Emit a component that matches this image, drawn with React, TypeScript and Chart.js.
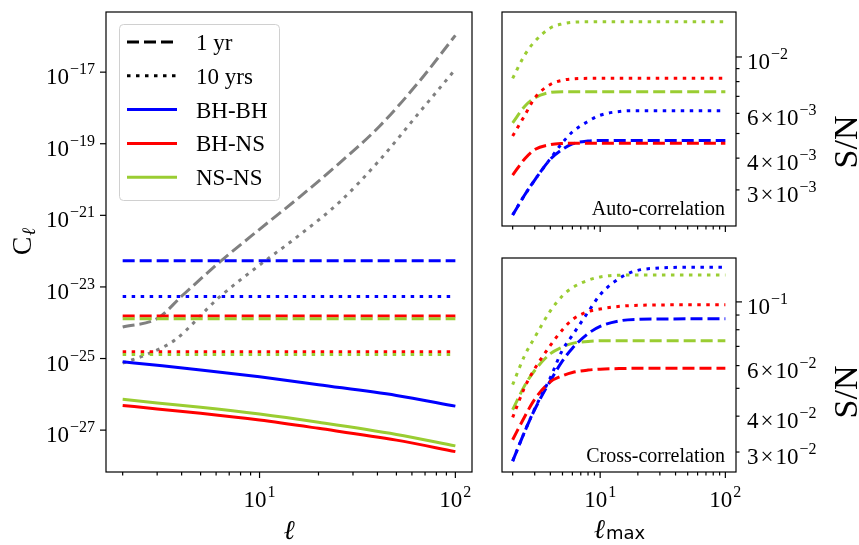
import React, { useEffect, useRef } from "react";
import { Chart, registerables } from "chart.js";
Chart.register(...registerables);

const W = 859;
const H = 545;
const SERIF = '"Liberation Serif", "Times New Roman", serif';
const SANS = '"DejaVu Sans", sans-serif';

const BLUE = "#0000ff";
const RED = "#ff0000";
const GREEN = "#9acd32";
const GREY = "#808080";
const DASH = [12, 5];
const DOT = [3.5, 5.5];

// ---------- left panel: C_ell ----------
const ELL_SIGNAL = [2, 3, 5, 10, 20, 50, 100];
const CL_BHBH = [8.13e-26, 6.46e-26, 4.79e-26, 3.09e-26, 1.86e-26, 9.33e-27, 4.68e-27];
const CL_BHNS = [4.9e-27, 3.89e-27, 2.95e-27, 1.91e-27, 1.12e-27, 5.25e-28, 2.51e-28];
const CL_NSNS = [7.24e-27, 5.75e-27, 4.37e-27, 2.82e-27, 1.66e-27, 7.59e-28, 3.63e-28];

const ELL_NOISE_1YR = [2, 3.03, 4, 6.25, 10, 16, 25.6, 41, 65.6, 100];
const NOISE_1YR = [7.59e-25, 1.35e-24, 5.5e-24, 4.9e-23, 4.07e-22, 3.24e-21, 2.88e-20, 3.09e-19, 5.62e-18, 1.07e-16];
const ELL_NOISE_10YR = [2, 2.75, 3.68, 6.25, 10, 16, 25.6, 41, 65.6, 100];
const NOISE_10YR = [7.41e-26, 1.41e-25, 3.24e-25, 5.25e-24, 4.07e-23, 2.82e-22, 2.34e-21, 3.47e-20, 7.59e-19, 1.2e-17];

const ELL_FLAT = [2, 100];
const SHOT_BHBH_1YR = [5.37e-23, 5.37e-23];
const SHOT_BHBH_10YR = [5.37e-24, 5.37e-24];
const SHOT_BHNS_1YR = [1.55e-24, 1.55e-24];
const SHOT_NSNS_1YR = [1.29e-24, 1.29e-24];
const SHOT_BHNS_10YR = [1.55e-25, 1.55e-25];
const SHOT_NSNS_10YR = [1.29e-25, 1.29e-25];

// ---------- right panels: S/N vs ell_max ----------
const ELL_MAX = [2, 2.5, 3, 4, 5, 6, 8, 10, 15, 20, 30, 50, 100];
const AUTO_BHBH_1YR = [0.00239, 0.00287, 0.00328, 0.00396, 0.00433, 0.00455, 0.00467, 0.00469, 0.00469, 0.00469, 0.00469, 0.00469, 0.00469];
const AUTO_BHBH_10YR = [0.00239, 0.00287, 0.00328, 0.00398, 0.0046, 0.00507, 0.00558, 0.0059, 0.00612, 0.00615, 0.00615, 0.00615, 0.00615];
const AUTO_BHNS_1YR = [0.00343, 0.00398, 0.00432, 0.00452, 0.00457, 0.00458, 0.00458, 0.00458, 0.00458, 0.00458, 0.00458, 0.00458, 0.00458];
const AUTO_BHNS_10YR = [0.00489, 0.0059, 0.0069, 0.0078, 0.0081, 0.0082, 0.00824, 0.00824, 0.00824, 0.00824, 0.00824, 0.00824, 0.00824];
const AUTO_NSNS_1YR = [0.00551, 0.0064, 0.0069, 0.00725, 0.0073, 0.0073, 0.0073, 0.0073, 0.0073, 0.0073, 0.0073, 0.0073, 0.0073];
const AUTO_NSNS_10YR = [0.00824, 0.0102, 0.0115, 0.013, 0.0135, 0.0137, 0.01375, 0.01377, 0.01377, 0.01377, 0.01377, 0.01377, 0.01377];

const CROSS_BHBH_1YR = [0.0279, 0.0354, 0.0422, 0.0531, 0.0623, 0.069, 0.0775, 0.0822, 0.0862, 0.087, 0.0872, 0.0873, 0.0873];
const CROSS_BHBH_10YR = [0.0279, 0.0354, 0.0424, 0.0545, 0.068, 0.0765, 0.0921, 0.106, 0.1225, 0.1288, 0.1312, 0.132, 0.132];
const CROSS_BHNS_1YR = [0.0331, 0.0399, 0.0458, 0.0527, 0.0553, 0.0568, 0.0579, 0.0583, 0.0586, 0.0587, 0.0587, 0.0587, 0.0587];
const CROSS_BHNS_10YR = [0.0396, 0.0505, 0.0585, 0.0705, 0.08, 0.0868, 0.0925, 0.0945, 0.0967, 0.0973, 0.0976, 0.0977, 0.0977];
const CROSS_NSNS_1YR = [0.0421, 0.0512, 0.0577, 0.066, 0.0697, 0.0717, 0.0728, 0.0732, 0.0733, 0.0733, 0.0733, 0.0733, 0.0733];
const CROSS_NSNS_10YR = [0.0515, 0.0652, 0.0752, 0.093, 0.105, 0.112, 0.119, 0.1222, 0.124, 0.1242, 0.1242, 0.1242, 0.1242];

// ---------- ticks & labels ----------
const X_MAJOR = [10, 100];
const X_MINOR = [2, 3, 4, 5, 6, 7, 8, 9, 20, 30, 40, 50, 60, 70, 80, 90];
const X_LABEL_EXP = ["1", "2"];

const LEFT_Y_MAJOR = [1e-27, 1e-25, 1e-23, 1e-21, 1e-19, 1e-17];
const LEFT_Y_EXP = ["\u221227", "\u221225", "\u221223", "\u221221", "\u221219", "\u221217"];

const AUTO_Y_MAJOR = [1e-2];
const AUTO_Y_MINOR = [3e-3, 4e-3, 5e-3, 6e-3, 7e-3, 8e-3, 9e-3];
const AUTO_Y_LABEL_VALUES = [1e-2, 6e-3, 4e-3, 3e-3];
const AUTO_Y_LABEL_MANT = ["", "6", "4", "3"];
const AUTO_Y_LABEL_EXP = ["\u22122", "\u22123", "\u22123", "\u22123"];

const CROSS_Y_MAJOR = [1e-1];
const CROSS_Y_MINOR = [3e-2, 4e-2, 5e-2, 6e-2, 7e-2, 8e-2, 9e-2];
const CROSS_Y_LABEL_VALUES = [1e-1, 6e-2, 4e-2, 3e-2];
const CROSS_Y_LABEL_MANT = ["", "6", "4", "3"];
const CROSS_Y_LABEL_EXP = ["\u22121", "\u22122", "\u22122", "\u22122"];

const LEGEND_LABELS = ["1 yr", "10 yrs", "BH-BH", "BH-NS", "NS-NS"];
const LEGEND_COLORS = ["#000000", "#000000", BLUE, RED, GREEN];
const LEGEND_DASHES = [DASH, DOT, [], [], []];

const TICK_FONT = 23;
const EXP_FONT = 16;

function lineDs(xs: number[], ys: number[], color: string, dash: number[]) {
  return {
    data: xs.map((x, i) => ({ x, y: ys[i] })),
    borderColor: color,
    borderWidth: 3,
    borderDash: dash,
    borderCapStyle: "butt",
    pointRadius: 0,
    fill: false,
    cubicInterpolationMode: "monotone",
  };
}

// draws  [mant ×] 10^exp
function powLabel(ctx: CanvasRenderingContext2D, mant: string, exp: string, x: number, y: number, align: string) {
  ctx.font = `${TICK_FONT}px ${SERIF}`;
  const wm = mant ? ctx.measureText(mant).width : 0;
  const wx = mant ? ctx.measureText("\u00d7").width + 4 : 0;
  const wb = ctx.measureText("10").width;
  ctx.font = `${EXP_FONT}px ${SERIF}`;
  const we = ctx.measureText(exp).width;
  const total = wm + wx + wb + we + 1;
  const x0 = align === "left" ? x : align === "right" ? x - total : x - total / 2;
  ctx.textAlign = "left";
  ctx.textBaseline = "alphabetic";
  ctx.font = `${TICK_FONT}px ${SERIF}`;
  if (mant) {
    ctx.fillText(mant, x0, y);
    ctx.fillText("\u00d7", x0 + wm + 2, y);
  }
  ctx.fillText("10", x0 + wm + wx, y);
  ctx.font = `${EXP_FONT}px ${SERIF}`;
  ctx.fillText(exp, x0 + wm + wx + wb + 1, y - 10);
}

type Spec = {
  ySide: "left" | "right";
  yMajor: number[];
  yMinor: number[];
  yLabelValues: number[];
  yLabelMant: string[];
  yLabelExp: string[];
  xLabels: boolean;
  extra: (ctx: CanvasRenderingContext2D, a: any) => void;
};

function axesPlugin(spec: Spec) {
  return {
    id: "axesDeco",
    afterDraw(chart: any) {
      const ctx: CanvasRenderingContext2D = chart.ctx;
      const a = chart.chartArea;
      const xs = chart.scales.x;
      const ys = chart.scales.y;
      ctx.save();
      ctx.strokeStyle = "#000";
      ctx.fillStyle = "#000";
      ctx.lineWidth = 1.2;
      ctx.setLineDash([]);
      const seg = (x1: number, y1: number, x2: number, y2: number) => {
        ctx.beginPath();
        ctx.moveTo(x1, y1);
        ctx.lineTo(x2, y2);
        ctx.stroke();
      };
      X_MAJOR.forEach((v) => {
        const px = xs.getPixelForValue(v);
        seg(px, a.bottom, px, a.bottom + 6);
      });
      X_MINOR.forEach((v) => {
        const px = xs.getPixelForValue(v);
        seg(px, a.bottom, px, a.bottom + 3.5);
      });
      const sgn = spec.ySide === "left" ? -1 : 1;
      const ex = spec.ySide === "left" ? a.left : a.right;
      spec.yMajor.forEach((v) => {
        const py = ys.getPixelForValue(v);
        seg(ex, py, ex + sgn * 6, py);
      });
      spec.yMinor.forEach((v) => {
        const py = ys.getPixelForValue(v);
        seg(ex, py, ex + sgn * 3.5, py);
      });
      ctx.strokeRect(a.left, a.top, a.right - a.left, a.bottom - a.top);

      if (spec.xLabels) {
        X_MAJOR.forEach((v, i) => {
          const px = xs.getPixelForValue(v);
          powLabel(ctx, "", X_LABEL_EXP[i], px, a.bottom + 35, "center");
        });
      }
      spec.yLabelValues.forEach((v, i) => {
        const py = ys.getPixelForValue(v);
        if (spec.ySide === "left") powLabel(ctx, spec.yLabelMant[i], spec.yLabelExp[i], a.left - 11, py + 12, "right");
        else powLabel(ctx, spec.yLabelMant[i], spec.yLabelExp[i], a.right + 11, py + 12, "left");
      });
      spec.extra(ctx, a);
      ctx.restore();
    },
  };
}

function baseOptions(padding: any, ymin: number, ymax: number) {
  return {
    responsive: false,
    animation: false,
    devicePixelRatio: 1,
    events: [],
    layout: { padding },
    plugins: { legend: { display: false }, tooltip: { enabled: false }, title: { display: false } },
    scales: {
      x: { type: "logarithmic", min: 1.644, max: 121.6, display: false },
      y: { type: "logarithmic", min: ymin, max: ymax, display: false },
    },
  };
}

function leftConfig(): any {
  const datasets = [
    lineDs(ELL_SIGNAL, CL_BHBH, BLUE, []),
    lineDs(ELL_SIGNAL, CL_BHNS, RED, []),
    lineDs(ELL_SIGNAL, CL_NSNS, GREEN, []),
    lineDs(ELL_FLAT, SHOT_BHBH_1YR, BLUE, DASH),
    lineDs(ELL_FLAT, SHOT_BHBH_10YR, BLUE, DOT),
    lineDs(ELL_FLAT, SHOT_NSNS_1YR, GREEN, DASH),
    lineDs(ELL_FLAT, SHOT_BHNS_1YR, RED, DASH),
    lineDs(ELL_FLAT, SHOT_NSNS_10YR, GREEN, DOT),
    lineDs(ELL_FLAT, SHOT_BHNS_10YR, RED, DOT),
    lineDs(ELL_NOISE_1YR, NOISE_1YR, GREY, DASH),
    lineDs(ELL_NOISE_10YR, NOISE_10YR, GREY, DOT),
  ];
  const spec: Spec = {
    ySide: "left",
    yMajor: LEFT_Y_MAJOR,
    yMinor: [],
    yLabelValues: LEFT_Y_MAJOR,
    yLabelMant: LEFT_Y_MAJOR.map(() => ""),
    yLabelExp: LEFT_Y_EXP,
    xLabels: true,
    extra: (ctx, a) => {
      // legend
      const bx = a.left + 13.5;
      const by = a.top + 12.5;
      ctx.beginPath();
      (ctx as any).roundRect(bx, by, 160, 176, 4);
      ctx.fillStyle = "rgba(255,255,255,0.8)";
      ctx.fill();
      ctx.strokeStyle = "#d0d0d0";
      ctx.lineWidth = 1;
      ctx.stroke();
      LEGEND_LABELS.forEach((lab, i) => {
        const ry = a.top + 30 + i * 33.8;
        ctx.strokeStyle = LEGEND_COLORS[i];
        ctx.lineWidth = 3;
        ctx.lineCap = "butt";
        ctx.setLineDash(LEGEND_DASHES[i]);
        ctx.beginPath();
        ctx.moveTo(a.left + 21, ry);
        ctx.lineTo(a.left + 71, ry);
        ctx.stroke();
        ctx.setLineDash([]);
        ctx.fillStyle = "#000";
        ctx.font = `23px ${SERIF}`;
        ctx.textAlign = "left";
        ctx.textBaseline = "alphabetic";
        ctx.fillText(lab, a.left + 90, ry + 8);
      });
      // x label
      ctx.fillStyle = "#000";
      ctx.font = `italic 27px ${SERIF}`;
      ctx.textAlign = "center";
      ctx.fillText("\u2113", (a.left + a.right) / 2, 539);
      // y label C_ell
      ctx.save();
      ctx.translate(31, 241);
      ctx.rotate(-Math.PI / 2);
      ctx.font = `28px ${SERIF}`;
      ctx.textAlign = "left";
      const wc = ctx.measureText("C").width;
      ctx.fillText("C", -wc / 2 - 5, 0);
      ctx.font = `italic 19px ${SERIF}`;
      ctx.fillText("\u2113", wc / 2 - 4, 4);
      ctx.restore();
    },
  };
  return {
    type: "line",
    data: { datasets },
    options: baseOptions({ left: 106, top: 12, right: W - 472, bottom: H - 472 }, 6.76e-29, 4.79e-16),
    plugins: [axesPlugin(spec)],
  };
}

function snLabel(ctx: CanvasRenderingContext2D, a: any, dy: number) {
  ctx.save();
  ctx.translate(a.right + 112, (a.top + a.bottom) / 2 + dy);
  ctx.rotate(-Math.PI / 2);
  ctx.fillStyle = "#000";
  ctx.font = `34px ${SERIF}`;
  ctx.textAlign = "center";
  ctx.textBaseline = "middle";
  ctx.fillText("S/N", 0, 0);
  ctx.restore();
}

function autoConfig(): any {
  const datasets = [
    lineDs(ELL_MAX, AUTO_NSNS_10YR, GREEN, DOT),
    lineDs(ELL_MAX, AUTO_BHNS_10YR, RED, DOT),
    lineDs(ELL_MAX, AUTO_NSNS_1YR, GREEN, DASH),
    lineDs(ELL_MAX, AUTO_BHBH_10YR, BLUE, DOT),
    lineDs(ELL_MAX, AUTO_BHNS_1YR, RED, DASH),
    lineDs(ELL_MAX, AUTO_BHBH_1YR, BLUE, DASH),
  ];
  const spec: Spec = {
    ySide: "right",
    yMajor: AUTO_Y_MAJOR,
    yMinor: AUTO_Y_MINOR,
    yLabelValues: AUTO_Y_LABEL_VALUES,
    yLabelMant: AUTO_Y_LABEL_MANT,
    yLabelExp: AUTO_Y_LABEL_EXP,
    xLabels: false,
    extra: (ctx, a) => {
      ctx.fillStyle = "#000";
      ctx.font = `20px ${SERIF}`;
      ctx.textAlign = "right";
      ctx.textBaseline = "alphabetic";
      ctx.fillText("Auto-correlation", a.right - 11, a.bottom - 11);
      snLabel(ctx, a, 23);
    },
  };
  return {
    type: "line",
    data: { datasets },
    options: baseOptions({ left: 502, top: 12, right: W - 736, bottom: H - 226 }, 0.002163, 0.01503),
    plugins: [axesPlugin(spec)],
  };
}

function crossConfig(): any {
  const datasets = [
    lineDs(ELL_MAX, CROSS_NSNS_10YR, GREEN, DOT),
    lineDs(ELL_MAX, CROSS_BHNS_10YR, RED, DOT),
    lineDs(ELL_MAX, CROSS_BHBH_10YR, BLUE, DOT),
    lineDs(ELL_MAX, CROSS_NSNS_1YR, GREEN, DASH),
    lineDs(ELL_MAX, CROSS_BHNS_1YR, RED, DASH),
    lineDs(ELL_MAX, CROSS_BHBH_1YR, BLUE, DASH),
  ];
  const spec: Spec = {
    ySide: "right",
    yMajor: CROSS_Y_MAJOR,
    yMinor: CROSS_Y_MINOR,
    yLabelValues: CROSS_Y_LABEL_VALUES,
    yLabelMant: CROSS_Y_LABEL_MANT,
    yLabelExp: CROSS_Y_LABEL_EXP,
    xLabels: true,
    extra: (ctx, a) => {
      ctx.fillStyle = "#000";
      ctx.font = `20px ${SERIF}`;
      ctx.textAlign = "right";
      ctx.textBaseline = "alphabetic";
      ctx.fillText("Cross-correlation", a.right - 11, a.bottom - 10);
      snLabel(ctx, a, 27);
      // x label  ell_max
      ctx.font = `italic 27px ${SERIF}`;
      const wl = ctx.measureText("\u2113").width;
      ctx.font = `18px ${SANS}`;
      const wm = ctx.measureText("max").width;
      const x0 = (a.left + a.right) / 2 - (wl + wm) / 2;
      ctx.textAlign = "left";
      ctx.font = `italic 27px ${SERIF}`;
      ctx.fillText("\u2113", x0, 538);
      ctx.font = `18px ${SANS}`;
      ctx.fillText("max", x0 + wl + 1, 539);
    },
  };
  return {
    type: "line",
    data: { datasets },
    options: baseOptions({ left: 502, top: 258, right: W - 736, bottom: H - 472 }, 0.02556, 0.1422),
    plugins: [axesPlugin(spec)],
  };
}

export default function App() {
  const r1 = useRef<HTMLCanvasElement>(null);
  const r2 = useRef<HTMLCanvasElement>(null);
  const r3 = useRef<HTMLCanvasElement>(null);
  useEffect(() => {
    const charts = [
      new Chart(r1.current as HTMLCanvasElement, leftConfig()),
      new Chart(r2.current as HTMLCanvasElement, autoConfig()),
      new Chart(r3.current as HTMLCanvasElement, crossConfig()),
    ];
    return () => charts.forEach((c) => c.destroy());
  }, []);
  const st: React.CSSProperties = { position: "absolute", left: 0, top: 0, width: W, height: H };
  return (
    <div style={{ position: "fixed", left: 0, top: 0, width: W, height: H, background: "#fff" }}>
      <canvas ref={r1} width={W} height={H} style={st} />
      <canvas ref={r2} width={W} height={H} style={st} />
      <canvas ref={r3} width={W} height={H} style={st} />
    </div>
  );
}
